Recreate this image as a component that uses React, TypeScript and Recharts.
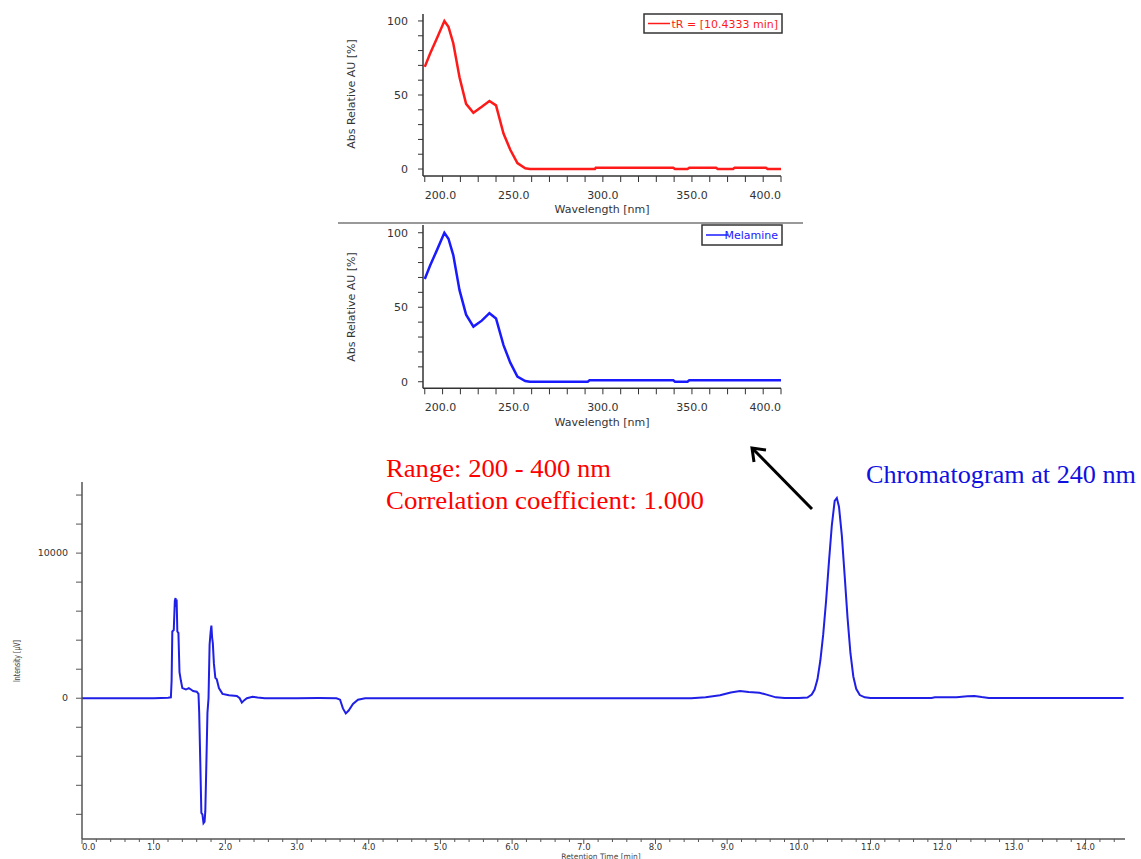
import React from 'react';
import { LineChart, Line, XAxis, YAxis } from 'recharts';

// chromatogram at 240 nm (retention time in min, intensity in µV)
const chromTime = [
  0, 0.5, 1.0, 1.1, 1.2, 1.24, 1.25, 1.26, 1.28, 1.295, 1.305, 1.315, 1.32, 1.33, 1.345, 1.36, 1.38, 1.4,
  1.45, 1.49, 1.52, 1.55, 1.6, 1.625, 1.635, 1.65, 1.665, 1.68, 1.695, 1.71, 1.72, 1.735, 1.75, 1.765,
  1.78, 1.795, 1.805, 1.815, 1.825, 1.84, 1.86, 1.88, 1.91, 1.96, 2.05, 2.16, 2.2, 2.23, 2.26, 2.3, 2.38,
  2.45, 2.55, 3.0, 3.3, 3.55, 3.6, 3.64, 3.68, 3.72, 3.78, 3.85, 3.95, 4.5, 5.5, 6.5, 7.5, 8.5, 8.7, 8.9,
  9.05, 9.18, 9.3, 9.45, 9.55, 9.68, 9.8, 10.0, 10.12, 10.18, 10.22, 10.26, 10.3, 10.34, 10.38, 10.42,
  10.46, 10.5, 10.53, 10.56, 10.6, 10.64, 10.68, 10.72, 10.76, 10.8, 10.85, 10.92, 11.0, 11.5, 11.85,
  11.9, 12.2, 12.35, 12.45, 12.55, 12.65, 13.5, 14.0, 14.53,
];
const chromIntensity = [
  0, 0, 0, 20, 40, 60, 1200, 4600, 4700, 6700, 6900, 6300, 6800, 4600, 4500, 1800, 1200, 700,
  600, 700, 600, 500, 450, 300, -1000, -4400, -7900, -8000, -8600, -8500, -7800, -4500, -1000, 0,
  3700, 4600, 5000, 4200, 3800, 2400, 1400, 1300, 700, 300, 200, 150, 0, -300, -150, 0, 100,
  50, 0, 0, 10, 0, -100, -700, -1050, -850, -400, -100, 0, 0, 0, 0, 0, 0, 60, 200,
  400, 500, 430, 380, 250, 60, 20, 20, 50, 250, 600, 1300, 2600, 4400, 6700, 9400,
  11900, 13600, 13800, 13200, 11200, 8400, 5500, 3100, 1500, 650, 220, 60, 20, 10, 20,
  60, 70, 140, 160, 80, 20, 10, 15, 10,
];

// UV spectrum of the peak at tR = 10.4333 min
const peakName = 'tR = [10.4333 min]';
const peakWl = [
  200, 203, 206.7, 211, 213.3, 216, 219.5, 223.2, 227.3, 232, 236.3, 240, 244.2, 248, 252, 256.4, 259,
  295.5, 296, 339.5, 340.5, 347.5, 348.5, 363.5, 364.5, 373, 374, 391.5, 392.5, 400,
];
const peakAbs = [
  69, 78, 88, 100, 96, 85, 62, 44, 38, 42, 46, 43, 24, 13, 4, 0.5, 0,
  0, 0.9, 0.9, 0, 0, 0.9, 0.9, 0, 0, 0.9, 0.9, 0, 0,
];

// library spectrum
const refName = 'Melamine';
const refWl = [
  200, 203, 206.7, 211, 213.3, 216, 219.5, 223.2, 227.3, 232, 236.3, 240, 244.2, 248, 252, 256.4, 259,
  291.5, 292.5, 339.5, 340.5, 347.5, 348.5, 400,
];
const refAbs = [
  69, 78, 88, 100, 96, 85, 61.5, 45, 37, 41, 46, 42.5, 24.6, 12.8, 3.4, 0.5, 0,
  0, 1, 1, 0, 0, 1, 1,
];

// ticks
const wlTicks = [200, 210, 220, 230, 240, 250, 260, 270, 280, 290, 300, 310, 320, 330, 340, 350, 360, 370, 380, 390, 400];
const wlLabels = [200, 250, 300, 350, 400];
const absTicks = [0, 10, 20, 30, 40, 50, 60, 70, 80, 90, 100];
const absLabels = [0, 50, 100];
const rtLabels = [0, 1, 2, 3, 4, 5, 6, 7, 8, 9, 10, 11, 12, 13, 14];
const rtTicks = rtLabels.flatMap((m) => [m, m + 0.2, m + 0.4, m + 0.6, m + 0.8]).filter((v) => v <= 14.55);
const intensityTicks = [-8000, -6000, -4000, -2000, 0, 2000, 4000, 6000, 8000, 10000, 12000, 14000];
const intensityLabels = [0, 10000];

const chromData = chromTime.map((t, i) => ({ t, v: chromIntensity[i] }));
const peakData = peakWl.map((wl, i) => ({ wl, abs: peakAbs[i] }));
const refData = refWl.map((wl, i) => ({ wl, abs: refAbs[i] }));

const SANS = '"DejaVu Sans", Verdana, sans-serif';
const SERIF = '"Liberation Serif", "Times New Roman", serif';

const WlTick = (props: any) => {
  const { x, y, payload } = props;
  const v = payload.value;
  const showLabel = wlLabels.includes(v);
  const anchor = v === 200 ? 'start' : v === 400 ? 'end' : 'middle';
  return (
    <g>
      <line x1={x} y1={y} x2={x} y2={y + 6} stroke="#333" strokeWidth={1} />
      {showLabel && (
        <text x={x} y={y + 23} textAnchor={anchor} fontFamily={SANS} fontSize={11} fill="#333">
          {v.toFixed(1)}
        </text>
      )}
    </g>
  );
};

const AbsTick = (props: any) => {
  const { x, y, payload } = props;
  const v = payload.value;
  return (
    <g>
      <line x1={x - 5} y1={y} x2={x} y2={y} stroke="#333" strokeWidth={1} />
      {absLabels.includes(v) && (
        <text x={x - 15} y={y + 4} textAnchor="end" fontFamily={SANS} fontSize={11} fill="#333">
          {v}
        </text>
      )}
    </g>
  );
};

const RtTick = (props: any) => {
  const { x, y, payload } = props;
  const v = payload.value;
  const major = Math.abs(v - Math.round(v)) < 1e-6;
  return (
    <g>
      <line x1={x} y1={y} x2={x} y2={y + (major ? 5 : 3)} stroke="#555" strokeWidth={1} />
      {major && (
        <text x={x} y={y + 10.5} textAnchor={v === 0 ? 'start' : 'middle'} fontFamily={SANS} fontSize={8.5} fill="#333">
          {v.toFixed(1)}
        </text>
      )}
    </g>
  );
};

const IntensityTick = (props: any) => {
  const { x, y, payload } = props;
  const v = payload.value;
  return (
    <g>
      <line x1={x - 6} y1={y} x2={x} y2={y} stroke="#555" strokeWidth={1} />
      {intensityLabels.includes(v) && (
        <text x={x - 14} y={y + 3} textAnchor="end" fontFamily={SANS} fontSize={9.5} fill="#333">
          {v}
        </text>
      )}
    </g>
  );
};

const SpectrumPanel = ({ top, data, color, marginTop, xAxisHeight, yDomain }: any) => (
  <div style={{ position: 'absolute', left: 330, top, width: 470, height: 220 }}>
    <LineChart width={470} height={220} data={data} margin={{ top: marginTop, right: 19, left: 0, bottom: 0 }}>
      <XAxis
        dataKey="wl"
        type="number"
        domain={[199, 400]}
        allowDataOverflow
        ticks={wlTicks}
        interval={0}
        height={xAxisHeight}
        tickLine={false}
        tickSize={0}
        tickMargin={0}
        tick={(p: any) => <WlTick {...p} />}
        axisLine={{ stroke: '#333', strokeWidth: 1.5 }}
      />
      <YAxis
        type="number"
        domain={yDomain}
        allowDataOverflow
        ticks={absTicks}
        interval={0}
        width={93}
        tickLine={false}
        tickSize={0}
        tickMargin={0}
        tick={(p: any) => <AbsTick {...p} />}
        axisLine={{ stroke: '#333', strokeWidth: 1.5 }}
      />
      <Line dataKey="abs" type="linear" stroke={color} strokeWidth={2.5} dot={false} isAnimationActive={false} />
    </LineChart>
  </div>
);

const LegendBox = ({ x, y, w, h, color, label }: any) => (
  <g>
    <rect x={x} y={y} width={w} height={h} fill="#fff" stroke="#333" strokeWidth={1.5} />
    <line x1={x + 4} y1={y + h / 2} x2={x + 26} y2={y + h / 2} stroke={color} strokeWidth={1.5} />
    <text x={x + w - 4} y={y + h / 2 + 4} textAnchor="end" fontFamily={SANS} fontSize={11} fill={color}>
      {label}
    </text>
  </g>
);

export default function App() {
  return (
    <div style={{ position: 'absolute', left: 0, top: 0, width: 1141, height: 859, background: '#fff', overflow: 'hidden' }}>
      <SpectrumPanel top={0} data={peakData} color="#ff1a1a" marginTop={14} xAxisHeight={44} yDomain={[-4.7, 104.7]} />
      <SpectrumPanel top={215} data={refData} color="#1a1aff" marginTop={10} xAxisHeight={46.7} yDomain={[-4.4, 105.2]} />

      <div style={{ position: 'absolute', left: 0, top: 470, width: 1141, height: 389 }}>
        <LineChart width={1141} height={389} data={chromData} margin={{ top: 12, right: 16, left: 0, bottom: 0 }}>
          <XAxis
            dataKey="t"
            type="number"
            domain={[0, 14.55]}
            allowDataOverflow
            ticks={rtTicks}
            interval={0}
            height={20}
            tickLine={false}
            tickSize={0}
            tickMargin={0}
            tick={(p: any) => <RtTick {...p} />}
            axisLine={{ stroke: '#555', strokeWidth: 1.5 }}
          />
          <YAxis
            type="number"
            domain={[-9700, 14900]}
            allowDataOverflow
            ticks={intensityTicks}
            interval={0}
            width={82}
            tickLine={false}
            tickSize={0}
            tickMargin={0}
            tick={(p: any) => <IntensityTick {...p} />}
            axisLine={{ stroke: '#555', strokeWidth: 1.5 }}
          />
          <Line dataKey="v" type="linear" stroke="#1f1fe6" strokeWidth={2} dot={false} isAnimationActive={false} />
        </LineChart>
      </div>

      <svg width={1141} height={859} style={{ position: 'absolute', left: 0, top: 0, pointerEvents: 'none' }}>
        {/* spectrum panel titles */}
        <text x={602} y={213} textAnchor="middle" fontFamily={SANS} fontSize={11} fill="#333">Wavelength [nm]</text>
        <text x={602} y={426} textAnchor="middle" fontFamily={SANS} fontSize={11} fill="#333">Wavelength [nm]</text>
        <text transform="translate(355,94) rotate(-90)" textAnchor="middle" fontFamily={SANS} fontSize={11} fill="#333">Abs Relative AU [%]</text>
        <text transform="translate(355,307) rotate(-90)" textAnchor="middle" fontFamily={SANS} fontSize={11} fill="#333">Abs Relative AU [%]</text>
        <line x1={338} y1={223} x2={803} y2={223} stroke="#777" strokeWidth={1.5} />
        <LegendBox x={644} y={14} w={138} h={19} color="#ff1a1a" label={peakName} />
        <LegendBox x={702} y={225} w={80} h={20} color="#1a1aff" label={refName} />

        {/* chromatogram titles */}
        <text transform="translate(20,661) rotate(-90)" textAnchor="middle" fontFamily={SANS} fontSize={8} fill="#444" textLength={42} lengthAdjust="spacingAndGlyphs">Intensity [µV]</text>
        <text x={601} y={858.5} textAnchor="middle" fontFamily={SANS} fontSize={7.5} fill="#444">Retention Time [min]</text>

        {/* annotations */}
        <text x={386} y={477} fontFamily={SERIF} fontSize={26} fill="#ff0000" textLength={225} lengthAdjust="spacingAndGlyphs">Range: 200 - 400 nm</text>
        <text x={386} y={509} fontFamily={SERIF} fontSize={26} fill="#ff0000" textLength={318} lengthAdjust="spacingAndGlyphs">Correlation coefficient: 1.000</text>
        <text x={866} y={483} fontFamily={SERIF} fontSize={26} fill="#1010e0" textLength={270} lengthAdjust="spacingAndGlyphs">Chromatogram at 240 nm</text>
        <line x1={812} y1={509} x2={753} y2={449} stroke="#000" strokeWidth={3} />
        <polyline points="754,462 752,448 766,450" fill="none" stroke="#000" strokeWidth={3} strokeLinejoin="miter" />
      </svg>
    </div>
  );
}
